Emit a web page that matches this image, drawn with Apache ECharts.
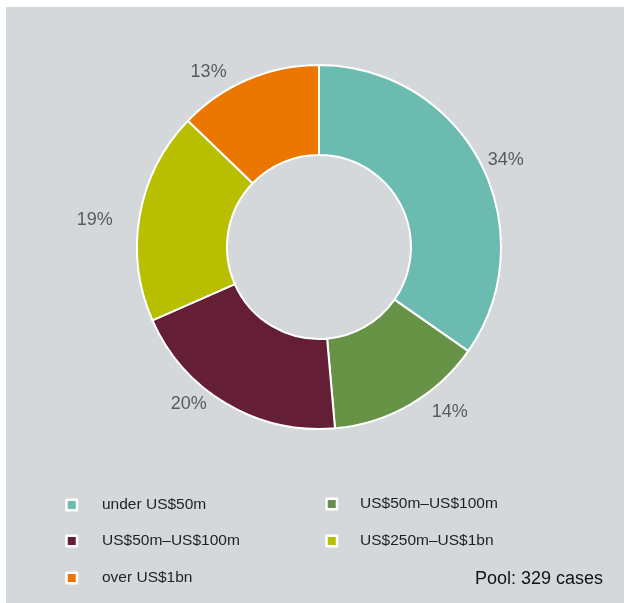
<!DOCTYPE html>
<html>
<head>
<meta charset="utf-8">
<script src="https://cdn.jsdelivr.net/npm/echarts@6/dist/echarts.min.js"></script>
<style>
    html, body { margin: 0; padding: 0; background: #fff; }
    #chart { width: 624px; height: 603px; }
</style>
</head>
<body>
<div id="chart"></div>
<script>
    // the source repeats "US$50m–US$100m"; a zero-width space keeps the two legend names apart
    var categories = ['under US$50m', 'US$50m–US$100m', 'US$50m–US$100m\u200b', 'US$250m–US$1bn', 'over US$1bn']
    var shares = [34.7, 13.9, 19.8, 18.8, 12.8]
    var shareLabels = ['34%', '14%', '20%', '19%', '13%']
    var colors = ['#6cbbb0', '#679346', '#641e35', '#b7bf00', '#ec7700']
    var poolNote = 'Pool: 329 cases'

    // label placement per slice: [line length, line length2, extra dy]
    var labelReach = [[6, 0, 0], [9, 15, 0], [1, 17, 0], [4, 21, 6], [8, 16, 0]]

    var legendSpots = [
        { left: 65.25, top: 497, pad: 20 },
        { left: 325.25, top: 496, pad: 18 },
        { left: 65.25, top: 533, pad: 20 },
        { left: 325.25, top: 533, pad: 18 },
        { left: 65.25, top: 570, pad: 20 }
    ]

    var chart = echarts.init(document.getElementById('chart'))

    var legends = categories.map(function (name, i) {
        var spot = legendSpots[i]
        return {
            left: spot.left,
            top: spot.top,
            padding: 0,
            orient: 'vertical',
            data: [name],
            icon: 'rect',
            itemWidth: 10.5,
            itemHeight: 10.5,
            selectedMode: false,
            itemStyle: { borderColor: '#ffffff', borderWidth: 2.5 },
            textStyle: {
                fontFamily: 'Liberation Sans',
                fontSize: 15.5,
                color: '#1f1f1f',
                padding: [0, 0, 0, spot.pad]
            }
        }
    })

    chart.setOption({
        animation: false,
        backgroundColor: '#ffffff',
        color: colors,
        graphic: [
            {
                type: 'rect',
                shape: { x: 6, y: 7, width: 618, height: 596 },
                style: { fill: '#d5d8db' },
                z: -10
            },
            {
                type: 'text',
                right: 21,
                top: 570,
                style: {
                    text: poolNote,
                    fontFamily: 'Liberation Sans',
                    fontSize: 18,
                    fill: '#111111'
                }
            }
        ],
        legend: legends,
        series: [
            {
                type: 'pie',
                center: [319, 247],
                radius: [92, 182],
                startAngle: 90,
                clockwise: true,
                avoidLabelOverlap: false,
                itemStyle: { borderColor: '#ffffff', borderWidth: 2 },
                label: {
                    show: true,
                    position: 'outside',
                    distanceToLabelLine: 2,
                    fontFamily: 'Liberation Sans',
                    fontSize: 18,
                    color: '#5a5a5a',
                    formatter: function (p) { return shareLabels[p.dataIndex] }
                },
                labelLine: { show: false },
                labelLayout: function (p) {
                    return { dy: labelReach[p.dataIndex][2] }
                },
                emphasis: { disabled: true },
                data: categories.map(function (name, i) {
                    return {
                        name: name,
                        value: shares[i],
                        labelLine: { show: false, length: labelReach[i][0], length2: labelReach[i][1] }
                    }
                })
            }
        ]
    })
</script>
</body>
</html>
